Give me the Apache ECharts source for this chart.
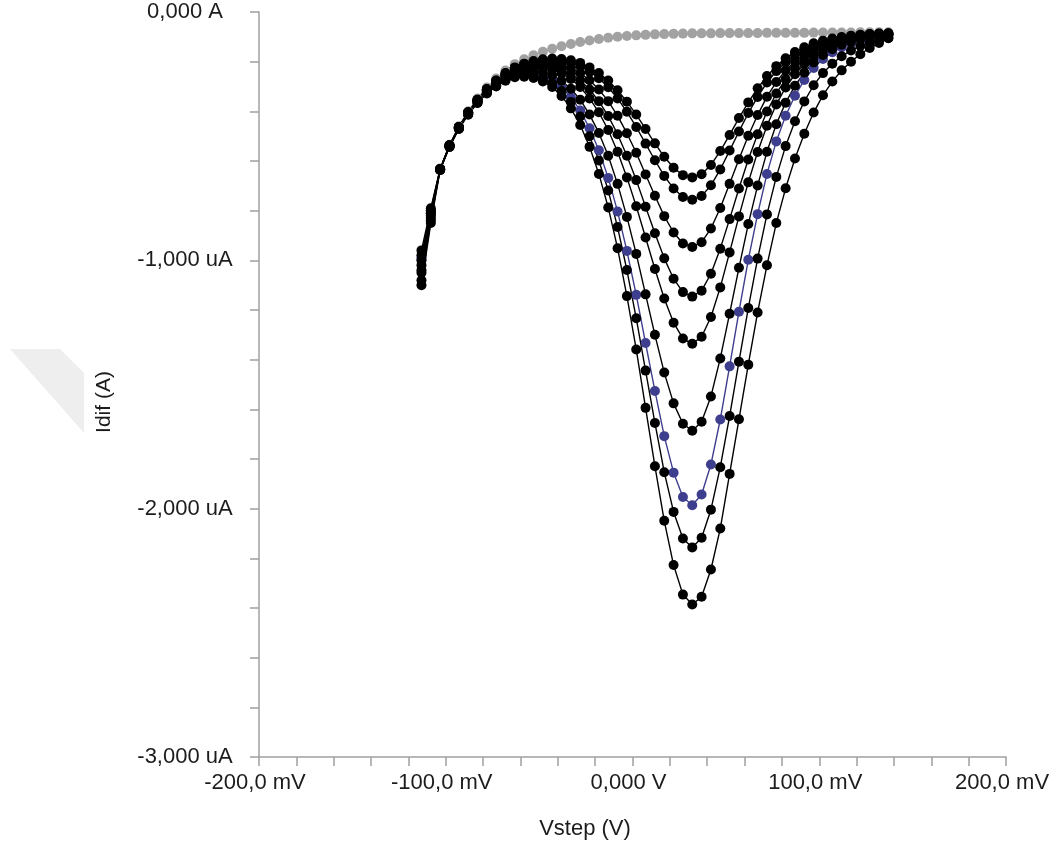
<!DOCTYPE html>
<html>
<head>
<meta charset="utf-8">
<title>Idif vs Vstep</title>
<script src="https://cdn.jsdelivr.net/npm/echarts@6/dist/echarts.min.js"></script>
<style>
  html, body { margin: 0; padding: 0; background: #fff; }
  #dpv-chart { width: 1056px; height: 847px; }
</style>
</head>
<body>
<div id="dpv-chart"></div>
<script>
  // step potential, mV
  const vStep = [-113, -108, -103, -98, -93, -88, -83, -78, -73, -68, -63, -58, -53, -48, -43, -38, -33, -28, -23, -18,
    -13, -8, -3, 2, 7, 12, 17, 22, 27, 32, 37, 42, 47, 52, 57, 62, 67, 72, 77, 82, 87, 92, 97, 102, 107, 112, 117, 122, 127, 132, 137];

  // differential current, uA
  const blankCurrent = [-1.00, -0.80, -0.63, -0.535, -0.46, -0.40, -0.348, -0.304, -0.268, -0.236, -0.21, -0.19, -0.174, -0.16, -0.148, -0.138, -0.129, -0.121, -0.115, -0.109,
    -0.104, -0.100, -0.097, -0.094, -0.092, -0.090, -0.089, -0.088, -0.087, -0.086, -0.086, -0.086, -0.085, -0.085, -0.085, -0.085, -0.085, -0.084, -0.084, -0.084,
    -0.084, -0.084, -0.083, -0.083, -0.083, -0.083, -0.083, -0.082, -0.082, -0.082, -0.082];
  const curve1 = [-0.96, -0.79, -0.632, -0.537, -0.463, -0.404, -0.353, -0.310, -0.276, -0.246, -0.223, -0.208, -0.197, -0.190, -0.187, -0.189, -0.194, -0.205, -0.223, -0.246,
    -0.276, -0.315, -0.361, -0.413, -0.471, -0.529, -0.583, -0.627, -0.657, -0.666, -0.653, -0.616, -0.560, -0.495, -0.427, -0.364, -0.307, -0.258, -0.218, -0.186,
    -0.161, -0.142, -0.126, -0.116, -0.107, -0.101, -0.096, -0.092, -0.089, -0.087, -0.086];
  const curve2 = [-1.02, -0.82, -0.632, -0.537, -0.463, -0.404, -0.353, -0.311, -0.277, -0.248, -0.225, -0.211, -0.201, -0.195, -0.193, -0.196, -0.204, -0.218, -0.240, -0.267,
    -0.303, -0.348, -0.402, -0.463, -0.530, -0.597, -0.660, -0.711, -0.745, -0.756, -0.741, -0.698, -0.634, -0.558, -0.481, -0.407, -0.342, -0.284, -0.238, -0.202,
    -0.173, -0.151, -0.133, -0.121, -0.111, -0.104, -0.098, -0.093, -0.090, -0.088, -0.087];
  const curve3 = [-0.98, -0.81, -0.632, -0.538, -0.464, -0.405, -0.355, -0.313, -0.280, -0.252, -0.230, -0.217, -0.208, -0.205, -0.206, -0.213, -0.226, -0.246, -0.275, -0.312,
    -0.359, -0.418, -0.488, -0.567, -0.654, -0.740, -0.822, -0.888, -0.932, -0.946, -0.927, -0.872, -0.789, -0.692, -0.593, -0.498, -0.415, -0.341, -0.282, -0.235,
    -0.199, -0.170, -0.147, -0.131, -0.119, -0.110, -0.103, -0.097, -0.093, -0.090, -0.088];
  const curve4 = [-1.08, -0.84, -0.633, -0.539, -0.465, -0.406, -0.357, -0.315, -0.283, -0.255, -0.234, -0.223, -0.216, -0.215, -0.219, -0.230, -0.248, -0.275, -0.312, -0.359,
    -0.419, -0.492, -0.579, -0.677, -0.784, -0.891, -0.992, -1.074, -1.128, -1.146, -1.122, -1.054, -0.953, -0.834, -0.711, -0.594, -0.492, -0.401, -0.328, -0.271,
    -0.225, -0.190, -0.162, -0.142, -0.127, -0.116, -0.107, -0.100, -0.095, -0.092, -0.089];
  const curve5 = [-1.00, -0.80, -0.634, -0.540, -0.466, -0.408, -0.358, -0.317, -0.286, -0.259, -0.239, -0.229, -0.224, -0.225, -0.232, -0.247, -0.270, -0.302, -0.348, -0.404,
    -0.475, -0.563, -0.666, -0.782, -0.908, -1.035, -1.154, -1.251, -1.315, -1.336, -1.308, -1.228, -1.109, -0.968, -0.823, -0.686, -0.564, -0.458, -0.372, -0.304,
    -0.251, -0.209, -0.177, -0.153, -0.135, -0.122, -0.112, -0.103, -0.098, -0.094, -0.091];
  const curve6 = [-1.05, -0.83, -0.635, -0.541, -0.468, -0.410, -0.361, -0.321, -0.290, -0.265, -0.247, -0.240, -0.238, -0.243, -0.255, -0.277, -0.309, -0.353, -0.413, -0.487,
    -0.579, -0.692, -0.825, -0.974, -1.137, -1.300, -1.452, -1.576, -1.658, -1.686, -1.650, -1.548, -1.395, -1.215, -1.030, -0.854, -0.699, -0.563, -0.452, -0.365,
    -0.297, -0.244, -0.203, -0.173, -0.150, -0.132, -0.120, -0.109, -0.102, -0.097, -0.093];
  // highlighted (blue) scan
  const curve7 = [-0.99, -0.80, -0.635, -0.542, -0.469, -0.411, -0.363, -0.324, -0.295, -0.270, -0.254, -0.249, -0.250, -0.259, -0.275, -0.303, -0.343, -0.397, -0.468, -0.557,
    -0.668, -0.803, -0.962, -1.139, -1.333, -1.526, -1.708, -1.855, -1.953, -1.986, -1.943, -1.822, -1.641, -1.427, -1.207, -0.998, -0.814, -0.652, -0.521, -0.418,
    -0.337, -0.274, -0.225, -0.189, -0.162, -0.142, -0.127, -0.114, -0.106, -0.100, -0.095];
  const curve8 = [-1.10, -0.85, -0.636, -0.543, -0.470, -0.412, -0.365, -0.326, -0.297, -0.273, -0.258, -0.254, -0.257, -0.268, -0.287, -0.318, -0.362, -0.421, -0.500, -0.598,
    -0.719, -0.866, -1.039, -1.233, -1.444, -1.655, -1.853, -2.013, -2.120, -2.156, -2.117, -2.004, -1.833, -1.627, -1.408, -1.192, -0.993, -0.815, -0.664, -0.540,
    -0.440, -0.360, -0.295, -0.246, -0.208, -0.178, -0.155, -0.137, -0.124, -0.114, -0.106];
  const curve9 = [-1.04, -0.81, -0.636, -0.543, -0.471, -0.414, -0.366, -0.328, -0.300, -0.277, -0.263, -0.261, -0.266, -0.280, -0.302, -0.338, -0.388, -0.455, -0.543, -0.652,
    -0.787, -0.951, -1.144, -1.359, -1.594, -1.829, -2.049, -2.227, -2.346, -2.386, -2.355, -2.245, -2.080, -1.860, -1.640, -1.420, -1.210, -1.020, -0.850, -0.710,
    -0.590, -0.490, -0.405, -0.335, -0.280, -0.235, -0.200, -0.170, -0.145, -0.125, -0.105];

  // tick labels
  const xLabelTicks = [-200, -100, 0, 100, 200];
  const xLabelTexts = ['-200,0 mV', '-100,0 mV', '0,000 V', '100,0 mV', '200,0 mV'];
  const yLabelTicks = [0, -1, -2, -3];
  const yLabelTexts = ['0,000 A', '-1,000 uA', '-2,000 uA', '-3,000 uA'];

  const FONT = '"Liberation Sans", Arial, sans-serif';
  const TEXT_COLOR = '#1c1c1c';
  const AXIS_COLOR = '#a0a0a0';

  const pickLabel = (ticks, texts) => (v) => {
    const i = ticks.findIndex((t) => Math.abs(t - v) < 1e-6);
    return i < 0 ? '' : texts[i];
  };

  // drawing order: blank first, blue scan under the black ones
  const curves = [
    { name: 'blank', values: blankCurrent, color: '#a2a2a2' },
    { name: 'scan 7', values: curve7, color: '#3e3e8e' },
    { name: 'scan 1', values: curve1, color: '#000000' },
    { name: 'scan 2', values: curve2, color: '#000000' },
    { name: 'scan 3', values: curve3, color: '#000000' },
    { name: 'scan 4', values: curve4, color: '#000000' },
    { name: 'scan 5', values: curve5, color: '#000000' },
    { name: 'scan 6', values: curve6, color: '#000000' },
    { name: 'scan 8', values: curve8, color: '#000000' },
    { name: 'scan 9', values: curve9, color: '#000000' },
  ];

  const chart = echarts.init(document.getElementById('dpv-chart'));

  const option = {
    animation: false,
    backgroundColor: '#ffffff',
    grid: {
      left: 259,
      right: 50,
      top: 12,
      bottom: 90,
    },
    xAxis: {
      type: 'value',
      min: -200,
      max: 200,
      interval: 20,
      axisLine: { onZero: false, lineStyle: { color: AXIS_COLOR, width: 1.5 } },
      axisTick: { length: 9, lineStyle: { color: AXIS_COLOR, width: 1.5 } },
      splitLine: { show: false },
      axisLabel: {
        margin: 15,
        fontFamily: FONT,
        fontSize: 22,
        color: TEXT_COLOR,
        padding: [0, 8, 0, 0],
        formatter: pickLabel(xLabelTicks, xLabelTexts),
      },
    },
    yAxis: {
      type: 'value',
      min: -3,
      max: 0,
      interval: 0.2,
      axisLine: { show: true, onZero: false, lineStyle: { color: AXIS_COLOR, width: 1.5 } },
      axisTick: { show: true, length: 9, lineStyle: { color: AXIS_COLOR, width: 1.5 } },
      splitLine: { show: false },
      axisLabel: {
        margin: 74,
        align: 'center',
        fontFamily: FONT,
        fontSize: 22,
        color: TEXT_COLOR,
        formatter: pickLabel(yLabelTicks, yLabelTexts),
      },
    },
    graphic: [
      {
        // faint grey mark left of the axis title
        type: 'polygon',
        z: -1,
        shape: { points: [[10, 349], [60, 349], [84, 373], [84, 433]] },
        style: { fill: '#eeeeee' },
      },
      {
        type: 'text',
        x: 104,
        y: 402,
        rotation: Math.PI / 2,
        style: {
          text: 'Idif (A)',
          font: '21px ' + FONT,
          fill: TEXT_COLOR,
          textAlign: 'center',
          textVerticalAlign: 'middle',
        },
      },
      {
        type: 'text',
        x: 585,
        y: 829,
        style: {
          text: 'Vstep (V)',
          font: '22px ' + FONT,
          fill: TEXT_COLOR,
          textAlign: 'center',
          textVerticalAlign: 'middle',
        },
      },
    ],
    series: curves.map((c) => ({
      name: c.name,
      type: 'line',
      data: vStep.map((v, i) => [v, c.values[i]]),
      symbol: 'circle',
      symbolSize: 10,
      showAllSymbol: true,
      itemStyle: { color: c.color },
      lineStyle: { color: c.color, width: 1.4 },
      emphasis: { disabled: true },
    })),
  };

  chart.setOption(option);
</script>
</body>
</html>
